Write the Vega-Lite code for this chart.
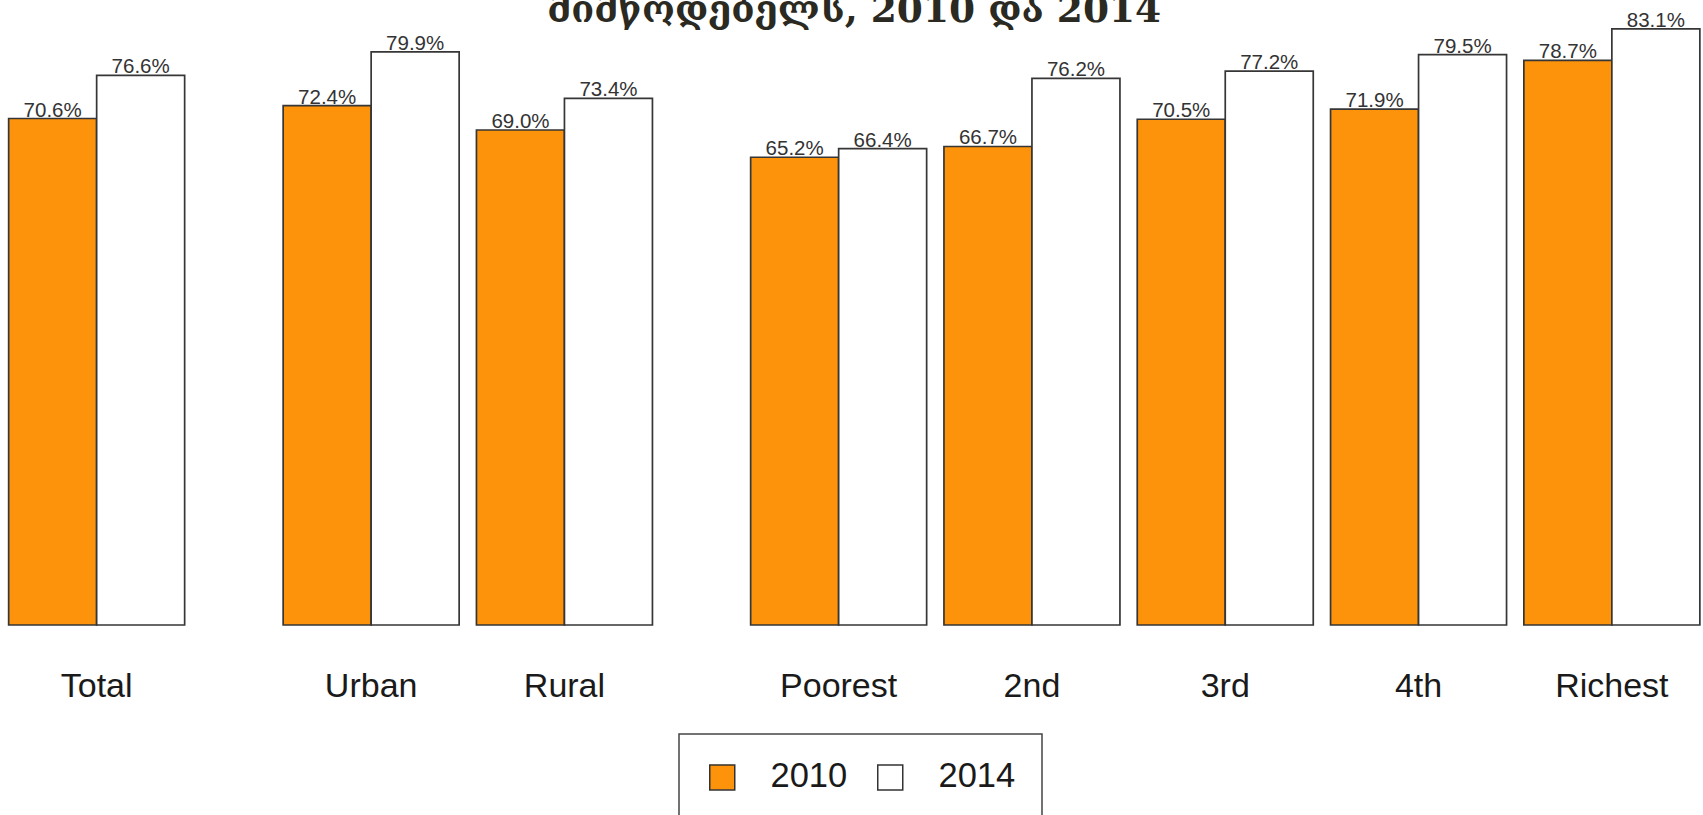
{
  "$schema": "https://vega.github.io/schema/vega-lite/v6.json",
  "padding": {"top": -9, "bottom": -6, "left": 0, "right": -4},
  "background": "#ffffff",
  "title": {
    "text": "მიმწოდებელს, 2010 და 2014",
    "font": "DejaVu Serif",
    "fontSize": 37.5,
    "fontWeight": "bold",
    "color": "#2b2a22",
    "anchor": "middle",
    "offset": -30
  },
  "datasets": {
    "total": [
      {"group": "Total", "year": "2010", "share": 0.706},
      {"group": "Total", "year": "2014", "share": 0.766}
    ],
    "area": [
      {"group": "Urban", "year": "2010", "share": 0.724},
      {"group": "Urban", "year": "2014", "share": 0.799},
      {"group": "Rural", "year": "2010", "share": 0.690},
      {"group": "Rural", "year": "2014", "share": 0.734}
    ],
    "wealth": [
      {"group": "Poorest", "year": "2010", "share": 0.652},
      {"group": "Poorest", "year": "2014", "share": 0.664},
      {"group": "2nd", "year": "2010", "share": 0.667},
      {"group": "2nd", "year": "2014", "share": 0.762},
      {"group": "3rd", "year": "2010", "share": 0.705},
      {"group": "3rd", "year": "2014", "share": 0.772},
      {"group": "4th", "year": "2010", "share": 0.719},
      {"group": "4th", "year": "2014", "share": 0.795},
      {"group": "Richest", "year": "2010", "share": 0.787},
      {"group": "Richest", "year": "2014", "share": 0.831}
    ]
  },
  "spacing": 80.5,
  "resolve": {
    "scale": {"x": "independent", "xOffset": "independent", "y": "shared", "color": "shared"},
    "legend": {"color": "shared"}
  },
  "hconcat": [
    {
      "width": 193.3,
      "height": 626,
      "data": {"name": "total"},
      "encoding": {
        "x": {"field": "group", "type": "nominal", "sort": ["Total"], "scale": {"paddingInner": 0.0895, "paddingOuter": 0.04475}},
        "xOffset": {"field": "year", "type": "nominal", "scale": {"paddingInner": 0, "paddingOuter": 0}},
        "y": {"field": "share", "type": "quantitative", "scale": {"domain": [0, 0.8726], "nice": false, "zero": true}, "axis": null}
      },
      "layer": [
        {
          "mark": {"type": "bar", "stroke": "#363636", "strokeWidth": 1.7},
          "encoding": {
            "color": {"field": "year", "type": "nominal", "scale": {"domain": ["2010", "2014"], "range": ["#FD930B", "#FFFFFF"]}, "legend": {"title": null}}
          }
        },
        {
          "mark": {"type": "text", "baseline": "alphabetic", "dy": -2, "font": "Liberation Sans", "fontSize": 20.5, "color": "#333333"},
          "encoding": {"text": {"field": "share", "type": "quantitative", "format": ".1%"}}
        }
      ]
    },
    {
      "width": 386.6,
      "height": 626,
      "data": {"name": "area"},
      "encoding": {
        "x": {"field": "group", "type": "nominal", "sort": ["Urban", "Rural"], "scale": {"paddingInner": 0.0895, "paddingOuter": 0.04475}},
        "xOffset": {"field": "year", "type": "nominal", "scale": {"paddingInner": 0, "paddingOuter": 0}},
        "y": {"field": "share", "type": "quantitative", "scale": {"domain": [0, 0.8726], "nice": false, "zero": true}, "axis": null}
      },
      "layer": [
        {
          "mark": {"type": "bar", "stroke": "#363636", "strokeWidth": 1.7},
          "encoding": {
            "color": {"field": "year", "type": "nominal", "scale": {"domain": ["2010", "2014"], "range": ["#FD930B", "#FFFFFF"]}, "legend": {"title": null}}
          }
        },
        {
          "mark": {"type": "text", "baseline": "alphabetic", "dy": -2, "font": "Liberation Sans", "fontSize": 20.5, "color": "#333333"},
          "encoding": {"text": {"field": "share", "type": "quantitative", "format": ".1%"}}
        }
      ]
    },
    {
      "width": 966.5,
      "height": 626,
      "data": {"name": "wealth"},
      "encoding": {
        "x": {"field": "group", "type": "nominal", "sort": ["Poorest", "2nd", "3rd", "4th", "Richest"], "scale": {"paddingInner": 0.0895, "paddingOuter": 0.04475}},
        "xOffset": {"field": "year", "type": "nominal", "scale": {"paddingInner": 0, "paddingOuter": 0}},
        "y": {"field": "share", "type": "quantitative", "scale": {"domain": [0, 0.8726], "nice": false, "zero": true}, "axis": null}
      },
      "layer": [
        {
          "mark": {"type": "bar", "stroke": "#363636", "strokeWidth": 1.7},
          "encoding": {
            "color": {"field": "year", "type": "nominal", "scale": {"domain": ["2010", "2014"], "range": ["#FD930B", "#FFFFFF"]}, "legend": {"title": null}}
          }
        },
        {
          "mark": {"type": "text", "baseline": "alphabetic", "dy": -2, "font": "Liberation Sans", "fontSize": 20.5, "color": "#333333"},
          "encoding": {"text": {"field": "share", "type": "quantitative", "format": ".1%"}}
        }
      ]
    }
  ],
  "config": {
    "view": {"stroke": null},
    "axisX": {
      "title": null,
      "domain": false,
      "ticks": false,
      "tickSize": 0,
      "grid": false,
      "labelAngle": 0,
      "labelFont": "Liberation Sans",
      "labelFontSize": 34,
      "labelColor": "#1a1a1a",
      "labelPadding": 44
    },
    "legend": {
      "orient": "none",
      "legendX": 679,
      "legendY": 735,
      "direction": "horizontal",
      "columns": 2,
      "padding": 26,
      "strokeColor": "#444444",
      "strokeWidth": 1.5,
      "symbolType": "square",
      "symbolSize": 625,
      "symbolStrokeColor": "#333333",
      "symbolStrokeWidth": 1.5,
      "symbolOpacity": 1,
      "labelFont": "Liberation Sans",
      "labelFontSize": 34.5,
      "labelColor": "#1a1a1a",
      "labelOffset": 31,
      "columnPadding": 25
    }
  }
}
